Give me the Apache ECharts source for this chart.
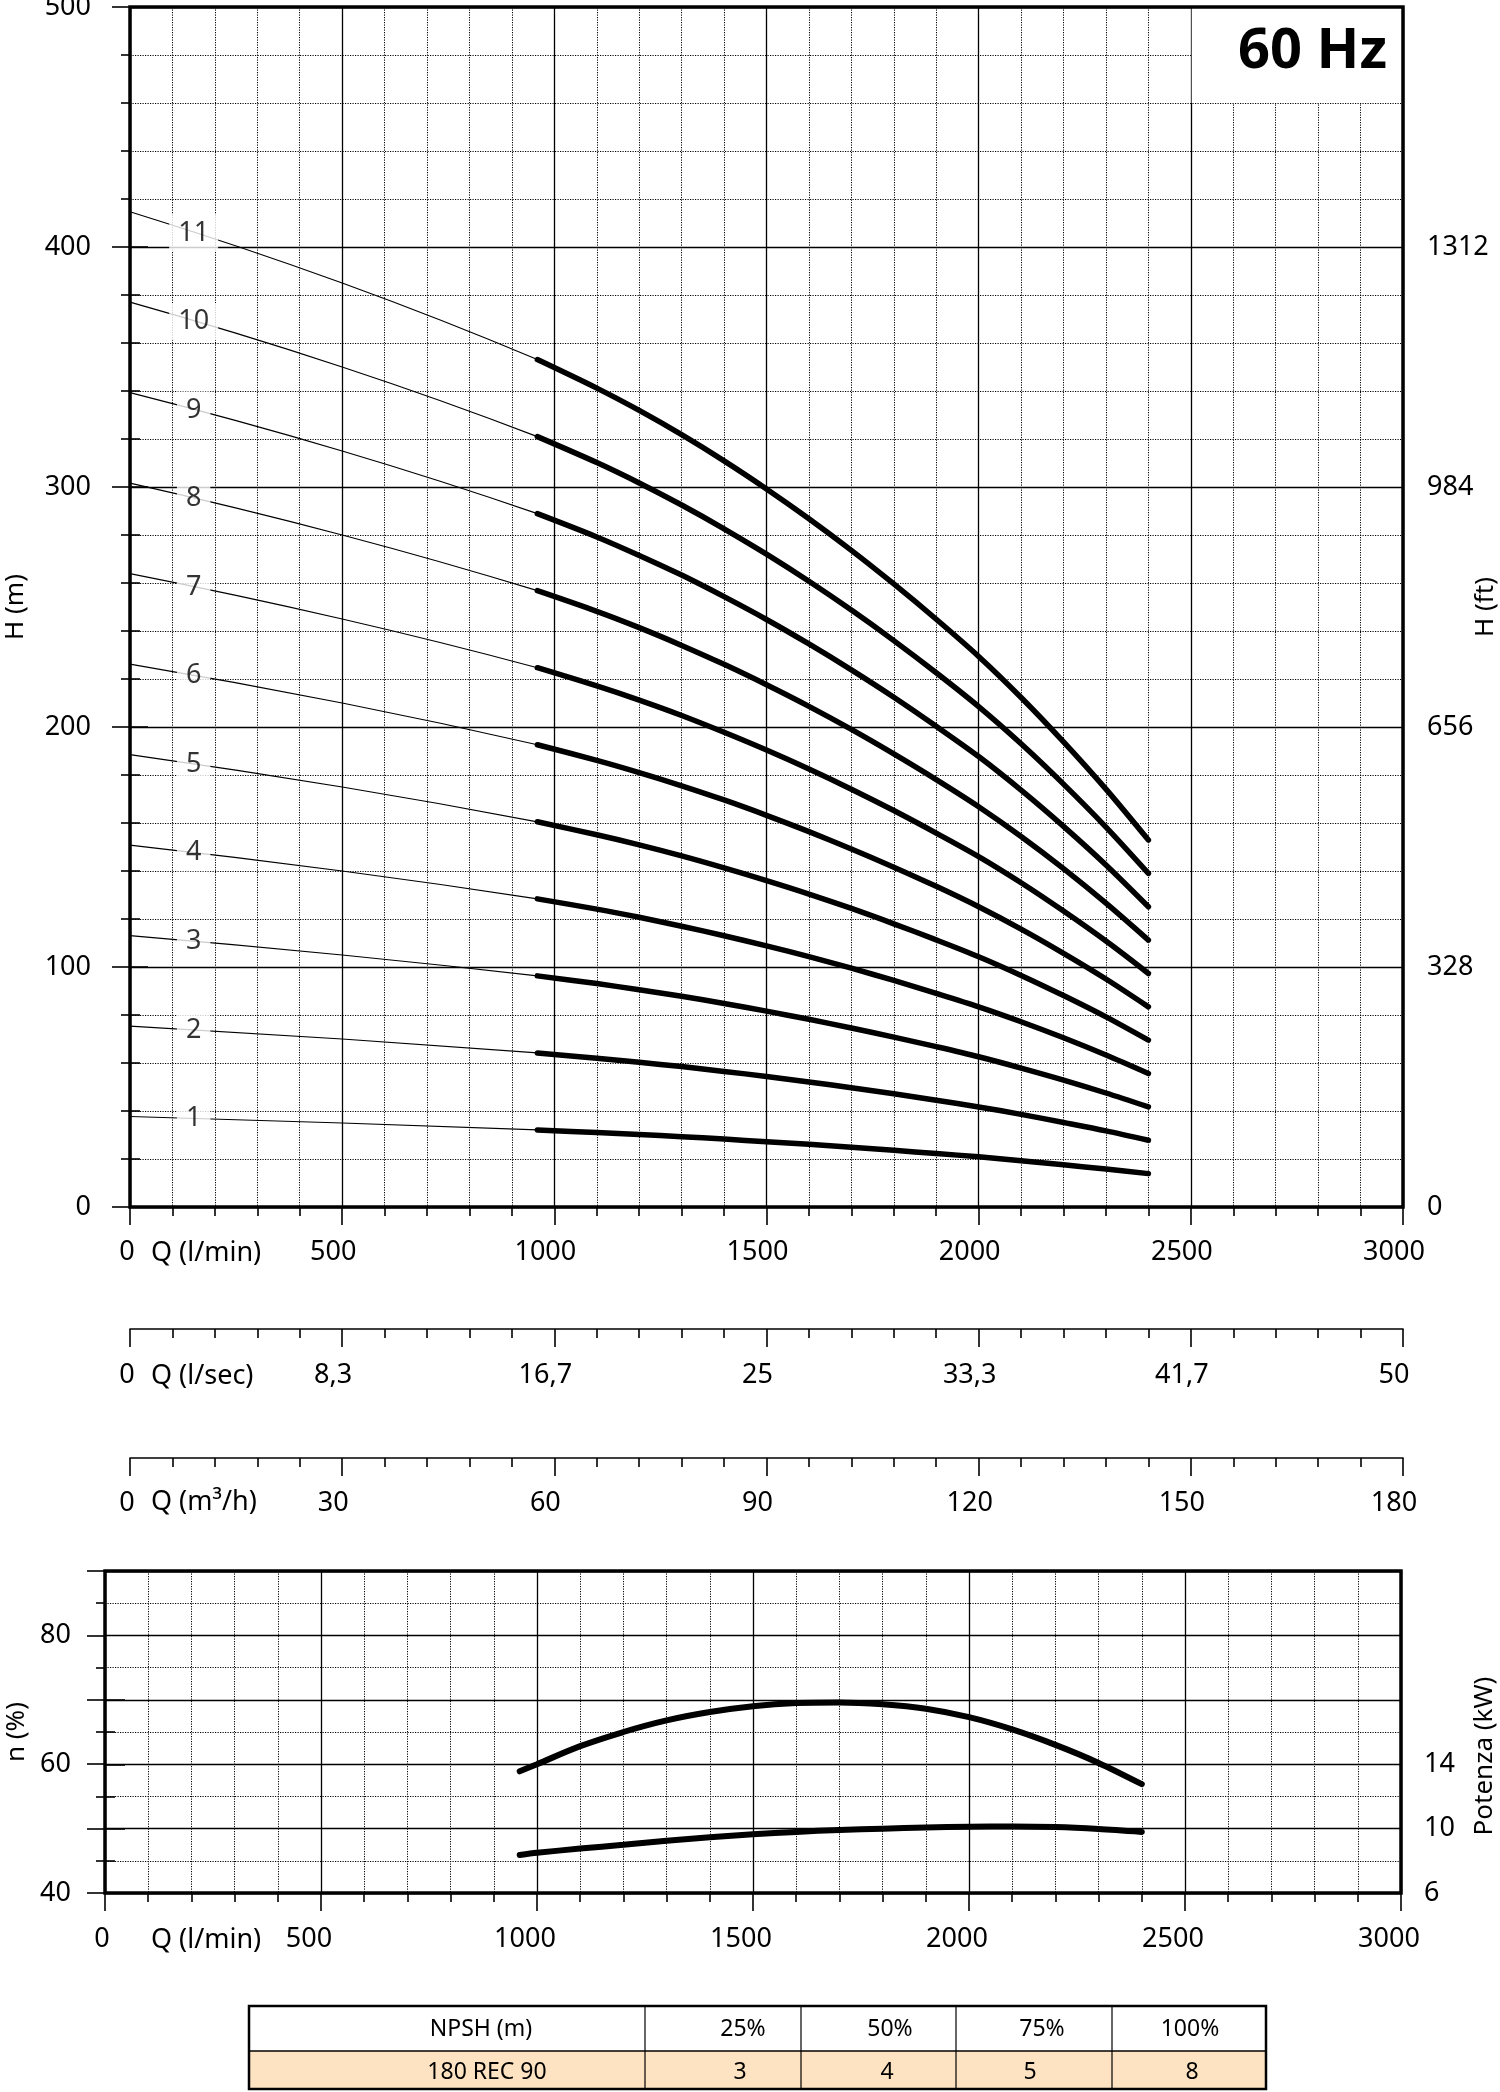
<!DOCTYPE html>
<html>
<head>
<meta charset="utf-8">
<script src="https://cdn.jsdelivr.net/npm/echarts@6/dist/echarts.min.js"></script>
<style>
html,body{margin:0;padding:0;background:#fff;}
#c{width:1500px;height:2092px;}
</style>
</head>
<body>
<div id="c"></div>
<script>
// ---------- DATA ----------
const qPump = [960,1100,1200,1300,1400,1500,1600,1700,1800,1900,2000,2100,2200,2300,2400];
const hStage1  = [32.1, 31.0, 30.2, 29.3, 28.3, 27.2, 26.1, 24.9, 23.6, 22.3, 20.9, 19.3, 17.6, 15.8, 13.9];
const hStage2  = [64.2, 62.0, 60.3, 58.5, 56.5, 54.4, 52.1, 49.7, 47.2, 44.5, 41.7, 38.6, 35.2, 31.7, 27.8];
const hStage3  = [96.3, 93.1, 90.5, 87.8, 84.8, 81.6, 78.2, 74.6, 70.8, 66.8, 62.6, 57.9, 52.9, 47.5, 41.7];
const hStage4  = [128.4, 124.1, 120.7, 117.0, 113.0, 108.8, 104.3, 99.5, 94.4, 89.0, 83.4, 77.2, 70.5, 63.3, 55.6];
const hStage5  = [160.5, 155.1, 150.9, 146.3, 141.3, 136.0, 130.4, 124.4, 118.0, 111.3, 104.3, 96.5, 88.1, 79.2, 69.5];
const hStage6  = [192.6, 186.1, 181.0, 175.5, 169.6, 163.2, 156.4, 149.2, 141.6, 133.6, 125.1, 115.8, 105.7, 95.0, 83.4];
const hStage7  = [224.7, 217.1, 211.2, 204.8, 197.8, 190.4, 182.5, 174.1, 165.2, 155.8, 146.0, 135.1, 123.3, 110.8, 97.3];
const hStage8  = [256.8, 248.2, 241.4, 234.0, 226.1, 217.6, 208.6, 199.0, 188.8, 178.1, 166.8, 154.4, 141.0, 126.6, 111.2];
const hStage9  = [288.9, 279.2, 271.5, 263.3, 254.3, 244.8, 234.6, 223.8, 212.4, 200.3, 187.7, 173.7, 158.6, 142.5, 125.1];
const hStage10 = [321.0, 310.2, 301.7, 292.5, 282.6, 272.0, 260.7, 248.7, 236.0, 222.6, 208.5, 193.0, 176.2, 158.3, 139.0];
const hStage11 = [353.1, 341.2, 331.9, 321.8, 310.9, 299.2, 286.8, 273.6, 259.6, 244.9, 229.4, 212.3, 193.8, 174.1, 152.9];
const stageNames = ['1','2','3','4','5','6','7','8','9','10','11'];

// thin extrapolated part of each curve (Q = 0 and Q = 500)
const thinQ = [0, 500];
const thinH0   = [37.7, 75.4, 113.1, 150.8, 188.5, 226.2, 263.9, 301.6, 339.3, 377.0, 414.7];
const thinH500 = [35.0, 70.0, 105.0, 140.0, 175.0, 210.0, 245.0, 280.0, 315.0, 350.0, 385.0];
// stage number labels sit on the thin line at this flow
const labelQ = 150;
const labelH = [36.9, 73.8, 110.7, 147.6, 184.5, 221.4, 258.3, 295.2, 332.1, 369.0, 405.9];

// efficiency (%) and power (kW)
const qEff = [960,1000,1100,1200,1300,1400,1500,1600,1700,1800,1900,2000,2100,2200,2300,2400];
const effPct = [58.9, 60.0, 62.8, 65.0, 66.8, 68.1, 69.0, 69.5, 69.6, 69.3, 68.6, 67.3, 65.4, 63.0, 60.2, 56.9];
const qPow = [960,1000,1100,1200,1300,1400,1500,1600,1700,1800,1900,2000,2100,2200,2300,2400];
const powKw = [8.36, 8.50, 8.76, 9.00, 9.25, 9.47, 9.65, 9.80, 9.92, 10.00, 10.07, 10.12, 10.14, 10.10, 9.98, 9.80];

// tick labels
const qLminTicks = ['0','500','1000','1500','2000','2500','3000'];
const qLsTicks   = ['0','8,3','16,7','25','33,3','41,7','50'];
const qM3hTicks  = ['0','30','60','90','120','150','180'];
const effTickLabels = [40, 60, 80];
const kwTickLabels = [6, 10, 14];

// NPSH table
const npshHeader = ['NPSH (m)','25%','50%','75%','100%'];
const npshRow    = ['180 REC 90','3','4','5','8'];

// ---------- CHART ----------
const FONT = "'Noto Sans', 'Open Sans', sans-serif";
const hStages = [hStage1,hStage2,hStage3,hStage4,hStage5,hStage6,hStage7,hStage8,hStage9,hStage10,hStage11];

const majorGrid = {show:true, lineStyle:{color:'#000', width:1.3, type:'solid'}};
const minorGrid = {show:true, lineStyle:{color:'#000', width:1, type:[1.2,1.3]}};
const tickStyle = {color:'#000', width:1.6};

function qAxis(gridIndex, labels, margin, shift, withGrid, showLine) {
  return {
    type:'value', gridIndex, min:0, max:3000, interval:500, position:'bottom',
    axisLine:{show:showLine, onZero:false, lineStyle:{color:'#000', width:1.6}},
    axisTick:{show:true, length:18, lineStyle:tickStyle},
    minorTick:{show:true, splitNumber:5, length:9, lineStyle:tickStyle},
    axisLabel:{
      margin, padding:[0, shift*2, 0, 0],
      formatter: v => {
        const t = labels[Math.round(v/500)];
        return v === 0 ? '{z|' + t + '}' : '{n|' + t + '}';
      },
      rich:{
        z:{fontSize:27, fontFamily:FONT, color:'#000', padding:[0,0,0,shift*2-6]},
        n:{fontSize:27, fontFamily:FONT, color:'#000'}
      }
    },
    splitLine: withGrid ? majorGrid : {show:false},
    minorSplitLine: withGrid ? minorGrid : {show:false}
  };
}

const series = [];
for (let n = 0; n < 11; n++) {
  series.push({
    type:'line', xAxisIndex:0, yAxisIndex:0, silent:true, symbol:'none', smooth:true, z:2,
    lineStyle:{color:'#000', width:1.2},
    data:[[thinQ[0], thinH0[n]], [thinQ[1], thinH500[n]], [qPump[0], hStages[n][0]]]
  });
}
for (let n = 0; n < 11; n++) {
  const s = {
    type:'line', xAxisIndex:0, yAxisIndex:0, silent:true, symbol:'none',
    smooth:0.3, z:3,
    lineStyle:{color:'#000', width:5.5, cap:'round', join:'round'},
    data: qPump.map((q, i) => [q, hStages[n][i]])
  };
  if (n === 10) {
    s.markArea = {
      silent:true,
      itemStyle:{color:'#fff'},
      label:{show:true, position:'insideRight', distance:16, offset:[0,-3],
             formatter:'60 Hz', fontSize:56, fontWeight:'bold', fontFamily:FONT, color:'#000'},
      data:[[{coord:[2502, 460]}, {coord:[3000, 500]}]]
    };
  }
  series.push(s);
}
series.push({
  type:'scatter', xAxisIndex:0, yAxisIndex:0, silent:true, symbolSize:1, z:6,
  itemStyle:{color:'rgba(0,0,0,0)'},
  label:{show:true, position:'inside', formatter: p => stageNames[p.dataIndex],
         backgroundColor:'#fff', padding:[6,9,4,9], fontSize:27, fontFamily:FONT, color:'#000'},
  data: labelH.map(h => [labelQ, h])
});
series.push({
  type:'line', xAxisIndex:4, yAxisIndex:5, silent:true, symbol:'none', smooth:0.3, z:3,
  lineStyle:{color:'#000', width:6, cap:'round'},
  data: qEff.map((q, i) => [q, effPct[i]])
});
series.push({
  type:'line', xAxisIndex:5, yAxisIndex:6, silent:true, symbol:'none', smooth:0.3, z:3,
  lineStyle:{color:'#000', width:6, cap:'round'},
  data: qPow.map((q, i) => [q, powKw[i]])
});

// table graphic
const tX = [249, 645, 801, 956, 1112, 1266];
const tY = [2006, 2051, 2089];
const headX = [481, 743, 890, 1042, 1190];
const rowX  = [487, 740, 887, 1030, 1192];
const tableEls = [
  {type:'rect', shape:{x:tX[0], y:tY[1], width:tX[5]-tX[0], height:tY[2]-tY[1]}, style:{fill:'#FDE3C2'}},
  {type:'line', shape:{x1:tX[0], y1:tY[1], x2:tX[5], y2:tY[1]}, style:{stroke:'#000', lineWidth:1.5}}
];
for (let i = 1; i < 5; i++) {
  tableEls.push({type:'line', shape:{x1:tX[i], y1:tY[0], x2:tX[i], y2:tY[2]}, style:{stroke:'#000', lineWidth:1.2}});
}
tableEls.push({type:'rect', shape:{x:tX[0], y:tY[0], width:tX[5]-tX[0], height:tY[2]-tY[0]}, style:{fill:'none', stroke:'#000', lineWidth:2.5}});
npshHeader.forEach((t, i) => tableEls.push({type:'text', x:headX[i], y:2029, style:{text:t, fill:'#000', font:'23px ' + FONT, textAlign:'center', textVerticalAlign:'middle'}}));
npshRow.forEach((t, i) => tableEls.push({type:'text', x:rowX[i], y:2072, style:{text:t, fill:'#000', font:'23px ' + FONT, textAlign:'center', textVerticalAlign:'middle'}}));

const capStyle = t => ({text:t, fill:'#000', font:'27px ' + FONT, textAlign:'left', textVerticalAlign:'middle'});

const gridBase = {outerBoundsMode:'none', containLabel:false};
const option = {
  animation:false,
  backgroundColor:'#fff',
  textStyle:{fontFamily:FONT, color:'#000'},
  grid:[
    Object.assign({left:130, top:7, width:1273, height:1200, show:true, borderColor:'#000', borderWidth:3.5, backgroundColor:'rgba(0,0,0,0)', z:10}, gridBase),
    Object.assign({left:130, top:247, width:1273, height:960, show:false}, gridBase),
    Object.assign({left:130, top:1328, width:1273, height:1, show:false}, gridBase),
    Object.assign({left:130, top:1457, width:1273, height:1, show:false}, gridBase),
    Object.assign({left:105, top:1571, width:1296, height:322, show:true, borderColor:'#000', borderWidth:3.5, backgroundColor:'rgba(0,0,0,0)', z:10}, gridBase),
    Object.assign({left:105, top:1700, width:1296, height:193, show:false}, gridBase)
  ],
  xAxis:[
    qAxis(0, qLminTicks, 32, 9, true, false),
    {type:'value', gridIndex:1, min:0, max:3000, show:false},
    qAxis(2, qLsTicks, 33, 9, false, true),
    qAxis(3, qM3hTicks, 32, 9, false, true),
    qAxis(4, qLminTicks, 33, 12, true, false),
    {type:'value', gridIndex:5, min:0, max:3000, show:false}
  ],
  yAxis:[
    {type:'value', gridIndex:0, min:0, max:500, interval:100,
     axisLine:{show:false}, axisTick:{show:true, length:18, lineStyle:tickStyle},
     minorTick:{show:true, splitNumber:5, length:9, lineStyle:tickStyle},
     axisLabel:{margin:39, fontSize:27, color:'#000', fontFamily:FONT},
     splitLine:majorGrid, minorSplitLine:minorGrid,
     name:'H (m)', nameLocation:'middle', nameGap:101, nameRotate:90,
     nameTextStyle:{fontSize:26, color:'#000', fontFamily:FONT}},
    {type:'value', gridIndex:1, position:'right', min:0, max:1312, interval:328,
     axisLine:{show:false}, axisTick:{show:true, length:18, lineStyle:tickStyle},
     minorTick:{show:true, splitNumber:5, length:10, lineStyle:tickStyle},
     axisLabel:{margin:24, fontSize:27, color:'#000', fontFamily:FONT, formatter: v => String(v)},
     splitLine:{show:false}, minorSplitLine:{show:false}},
    {type:'value', gridIndex:0, position:'right', min:0, max:500,
     axisLine:{show:false}, axisTick:{show:false}, axisLabel:{show:false}, splitLine:{show:false},
     name:'H (ft)', nameLocation:'middle', nameGap:70, nameRotate:90,
     nameTextStyle:{fontSize:26, color:'#000', fontFamily:FONT}},
    {type:'value', gridIndex:2, show:false},
    {type:'value', gridIndex:3, show:false},
    {type:'value', gridIndex:4, min:40, max:90, interval:10,
     axisLine:{show:false}, axisTick:{show:true, length:18, lineStyle:tickStyle},
     minorTick:{show:true, splitNumber:2, length:9, lineStyle:tickStyle},
     axisLabel:{margin:34, fontSize:27, color:'#000', fontFamily:FONT,
                formatter: v => effTickLabels.includes(v) ? String(v) : ''},
     splitLine:majorGrid, minorSplitLine:minorGrid,
     name:'n (%)', nameLocation:'middle', nameGap:75, nameRotate:90,
     nameTextStyle:{fontSize:26, color:'#000', fontFamily:FONT}},
    {type:'value', gridIndex:5, position:'right', min:6, max:18, interval:4,
     axisLine:{show:false}, axisTick:{show:true, length:20, lineStyle:tickStyle},
     minorTick:{show:true, splitNumber:2, length:10, lineStyle:tickStyle},
     axisLabel:{margin:23, fontSize:27, color:'#000', fontFamily:FONT,
                formatter: v => kwTickLabels.includes(v) ? String(v) : ''},
     splitLine:{show:false}, minorSplitLine:{show:false}}
  ],
  graphic:[
    {type:'text', x:151, y:1253, style:capStyle('Q (l/min)')},
    {type:'text', x:151, y:1376, style:capStyle('Q (l/sec)')},
    {type:'text', x:151, y:1502, style:capStyle('Q (m³/h)')},
    {type:'text', x:151, y:1940, style:capStyle('Q (l/min)')},
    {type:'text', x:1485, y:1756, rotation:Math.PI/2,
     style:{text:'Potenza (kW)', fill:'#000', font:'26px ' + FONT, textAlign:'center', textVerticalAlign:'middle'}},
    {type:'group', children:tableEls}
  ],
  series
};

const chart = echarts.init(document.getElementById('c'));
chart.setOption(option);
</script>
</body>
</html>
